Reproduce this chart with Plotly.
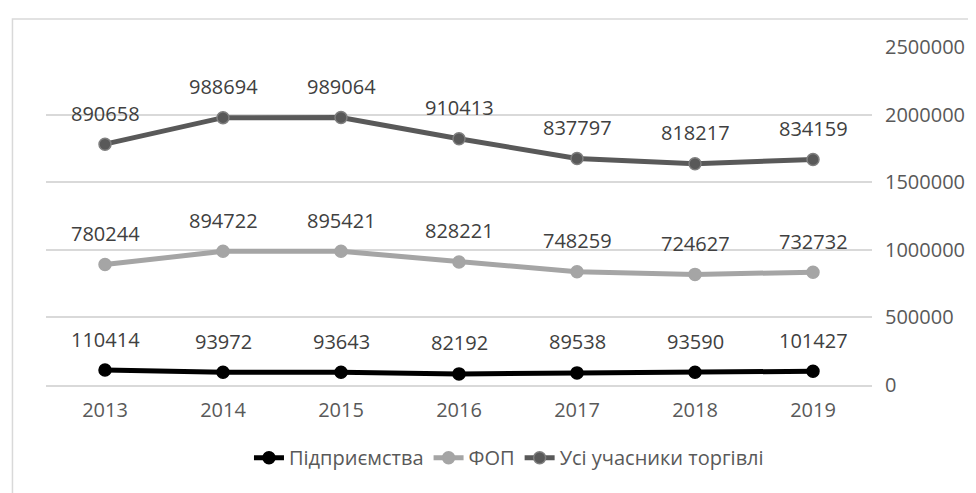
import numpy as np
import plotly.graph_objects as go

years = ["2013", "2014", "2015", "2016", "2017", "2018", "2019"]
series_names = ["Підприємства", "ФОП", "Усі учасники торгівлі"]
enterprises = [110414, 93972, 93643, 82192, 89538, 93590, 101427]
fop = [780244, 894722, 895421, 828221, 748259, 724627, 732732]
all_participants = [890658, 988694, 989064, 910413, 837797, 818217, 834159]
y_ticks = [0, 500000, 1000000, 1500000, 2000000, 2500000]

series_values = [enterprises, fop, all_participants]
line_colors = ["#000000", "#A5A5A5", "#595959"]
marker_lines = ["#000000", "#A5A5A5", "#7F7F7F"]

FONT = "Open Sans"
FS = 20

fig = go.Figure()
for name, vals, lc, ml in zip(series_names, series_values, line_colors, marker_lines):
    fig.add_trace(go.Scatter(
        x=years, y=vals, name=name, mode="lines+markers",
        stackgroup="one", fill="none",
        line=dict(color=lc, width=5),
        marker=dict(color=lc, size=12, line=dict(color=ml, width=1.5)),
    ))

# data labels at stacked positions
cum = np.cumsum(np.array(series_values), axis=0)
for vals, stacked in zip(series_values, cum):
    for i, (v, s) in enumerate(zip(vals, stacked)):
        fig.add_annotation(x=i, y=float(s), xref="x", yref="y", text=str(v),
                           showarrow=False, yshift=31,
                           font=dict(family=FONT, size=FS, color="#404040"))

# chart border
fig.add_shape(type="rect", xref="paper", yref="paper",
              x0=-0.0406, x1=1.3, y0=-0.6, y1=1.0828,
              line=dict(color="#D9D9D9", width=1.5), layer="below")

fig.update_layout(
    width=976, height=493,
    margin=dict(l=38, r=112, t=39, b=116, autoexpand=False),
    paper_bgcolor="white", plot_bgcolor="white",
    font=dict(family=FONT, size=FS, color="#595959"),
    showlegend=True,
    legend=dict(orientation="h", x=0.5605, xanchor="center", y=-0.215, yanchor="middle",
                traceorder="normal", font=dict(family=FONT, size=FS, color="#595959"),
                itemwidth=30),
    xaxis=dict(type="category", range=[-0.5, 6.5], showgrid=False, showline=True,
               linecolor="#D9D9D9", linewidth=2, ticks="", ticklabelstandoff=6,
               automargin=False,
               tickfont=dict(family=FONT, size=FS, color="#595959")),
    yaxis=dict(side="right", range=[0, 2500000], tickvals=y_ticks,
               ticktext=[str(t) for t in y_ticks], showgrid=True, gridcolor="#D9D9D9",
               gridwidth=2, zeroline=False, showline=False, ticks="",
               ticklabelstandoff=12, automargin=False,
               tickfont=dict(family=FONT, size=FS, color="#595959")),
)

fig.write_html("out.html")
